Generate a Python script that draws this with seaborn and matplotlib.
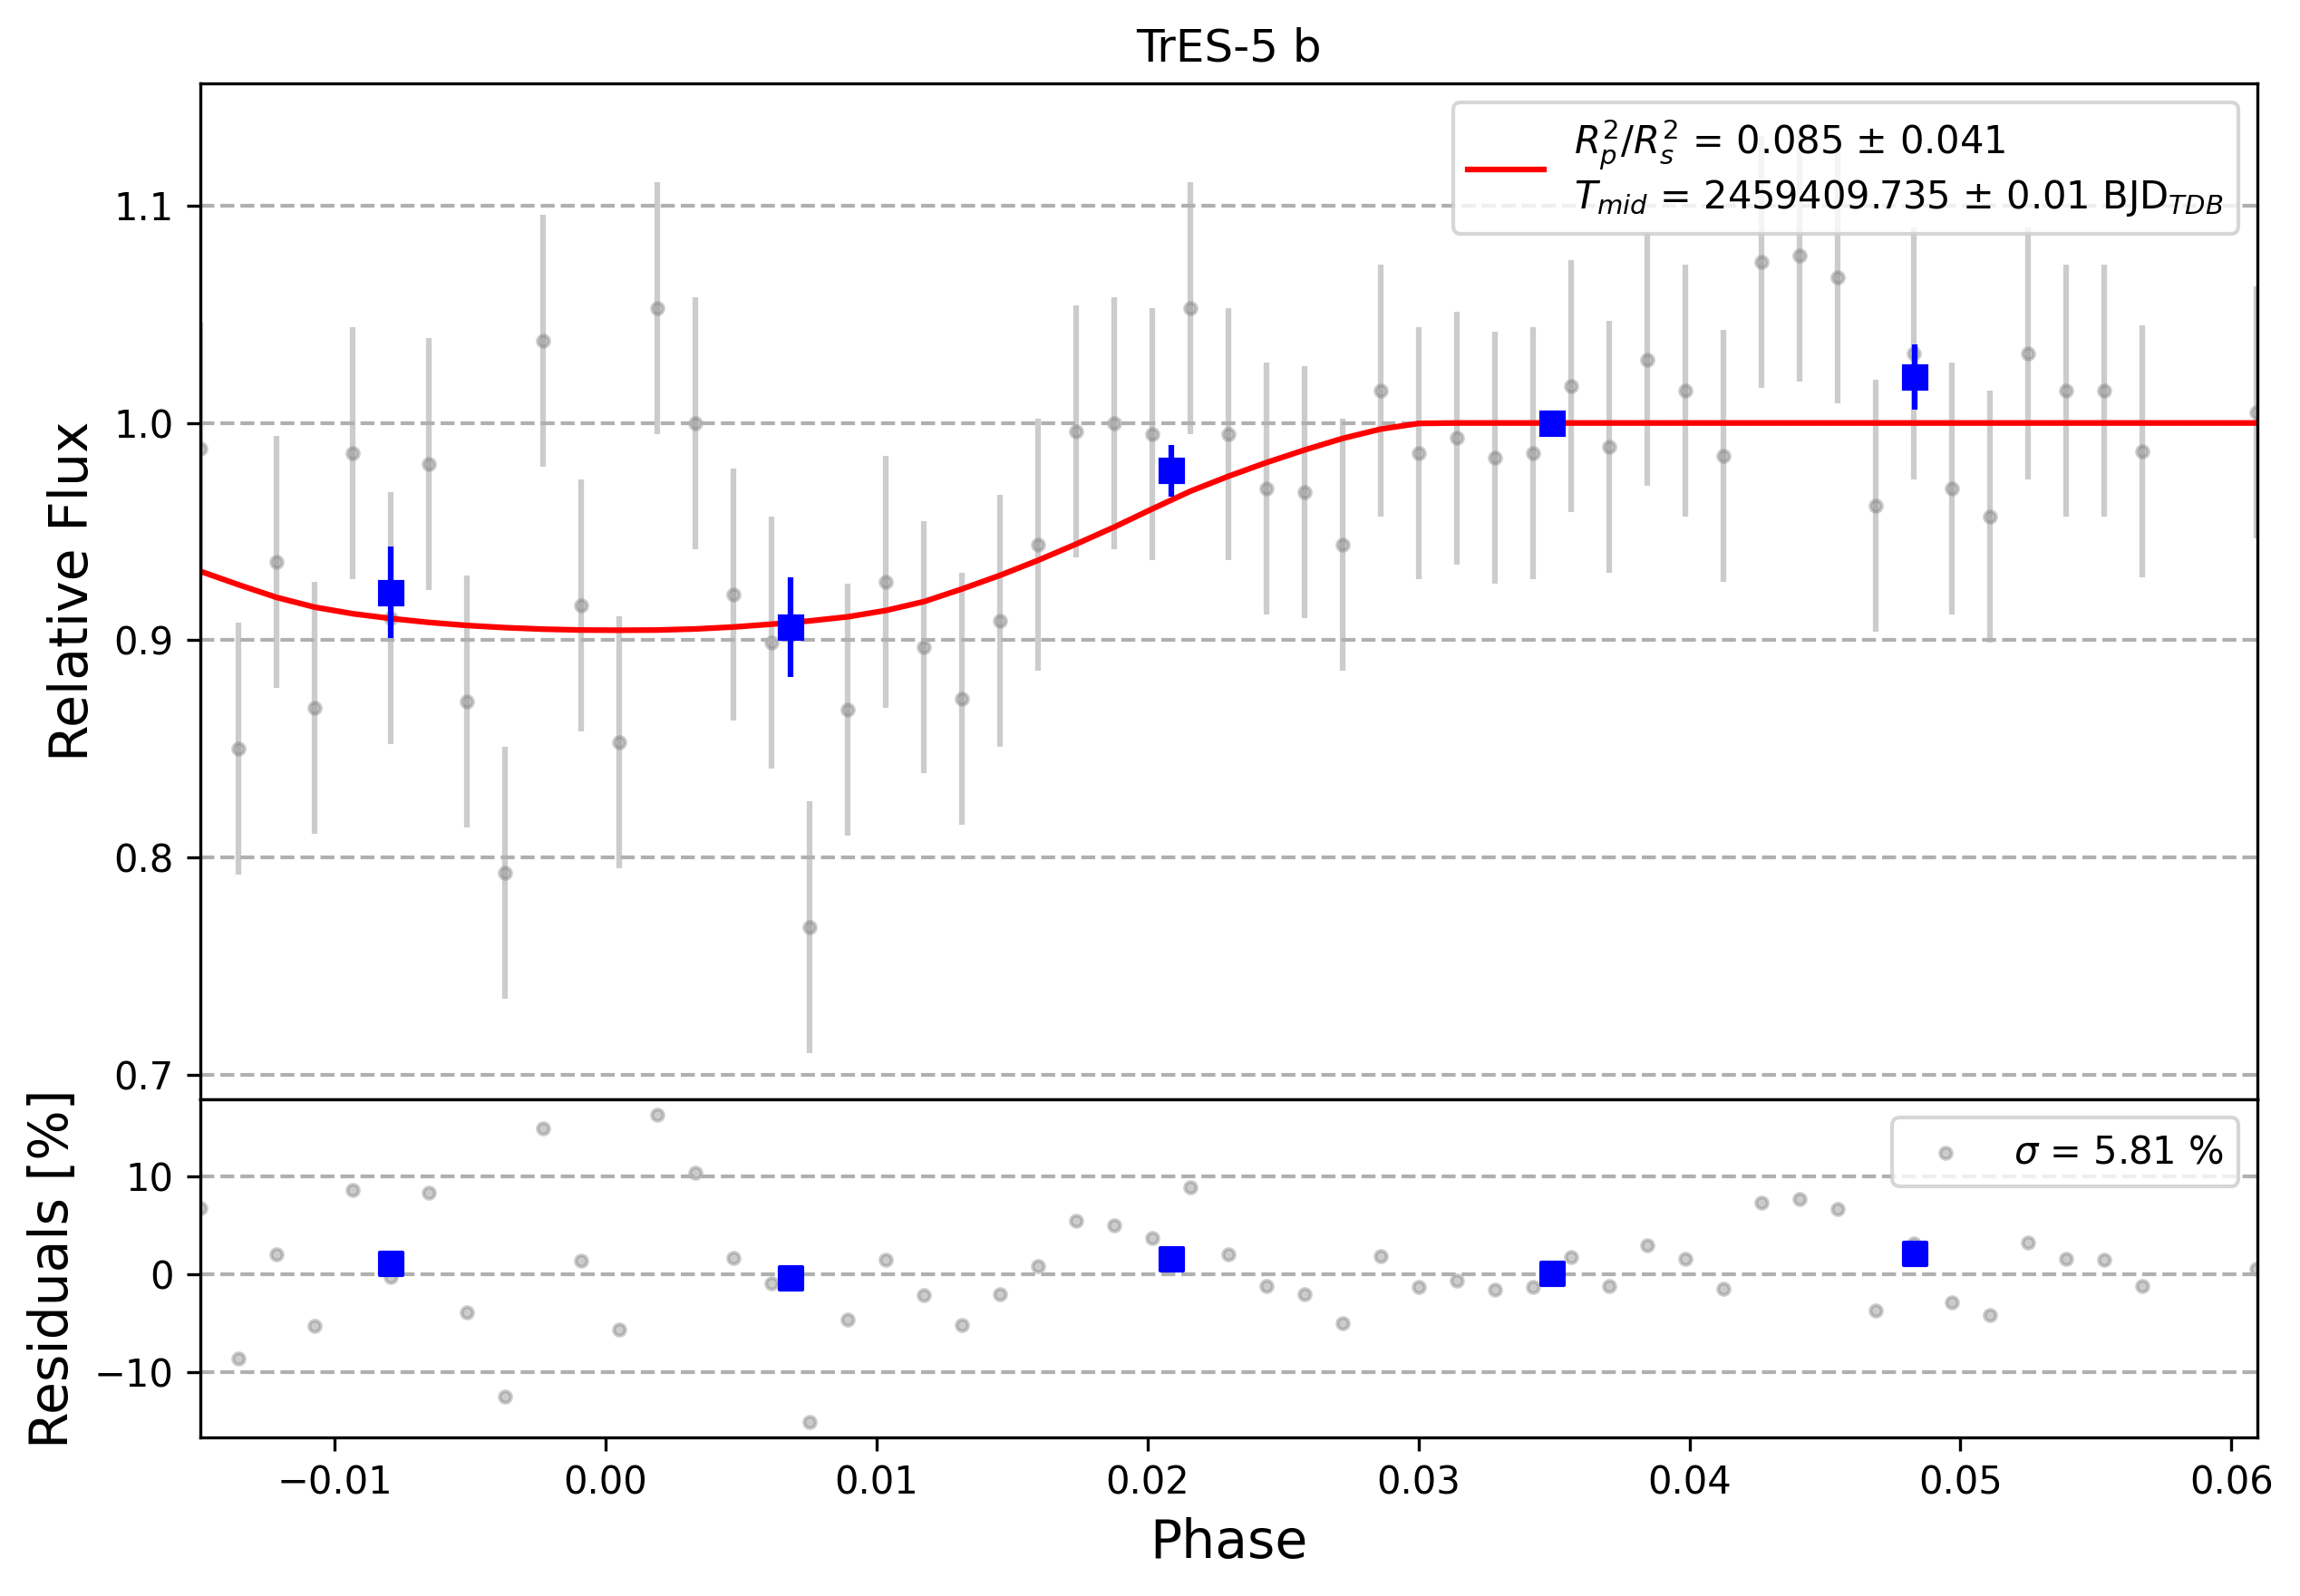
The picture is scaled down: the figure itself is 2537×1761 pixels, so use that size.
import numpy as np
import pandas as pd
import matplotlib
matplotlib.use("Agg")
import matplotlib.pyplot as plt
import seaborn as sns

# ---------------- data ----------------
phase = [-0.01495, -0.01354, -0.01214, -0.01073, -0.00933, -0.00792, -0.00652,
         -0.00511, -0.00371, -0.00230, -0.00090, 0.00051, 0.00191, 0.00332,
         0.00472, 0.00613, 0.00753, 0.00894, 0.01034, 0.01175, 0.01315,
         0.01456, 0.01596, 0.01737, 0.01877, 0.02018, 0.02158, 0.02299,
         0.02439, 0.02580, 0.02720, 0.02861, 0.03001, 0.03142, 0.03282,
         0.03423, 0.03563, 0.03704, 0.03844, 0.03985, 0.04125, 0.04266,
         0.04406, 0.04547, 0.04687, 0.04828, 0.04968, 0.05109, 0.05249,
         0.05390, 0.05530, 0.05671, 0.06092]

flux = [0.988, 0.850, 0.936, 0.869, 0.986, 0.910, 0.981, 0.872, 0.793, 1.038,
        0.916, 0.853, 1.053, 1.000, 0.921, 0.899, 0.768, 0.868, 0.927, 0.897,
        0.873, 0.909, 0.944, 0.996, 1.000, 0.995, 1.053, 0.995, 0.970, 0.968,
        0.944, 1.015, 0.986, 0.993, 0.984, 0.986, 1.017, 0.989, 1.029, 1.015,
        0.985, 1.074, 1.077, 1.067, 0.962, 1.032, 0.970, 0.957, 1.032, 1.015,
        1.015, 0.987, 1.005]

flux_err = [0.058, 0.058, 0.058, 0.058, 0.058, 0.058, 0.058, 0.058, 0.058, 0.058,
            0.058, 0.058, 0.058, 0.058, 0.058, 0.058, 0.058, 0.058, 0.058, 0.058,
            0.058, 0.058, 0.058, 0.058, 0.058, 0.058, 0.058, 0.058, 0.058, 0.058,
            0.058, 0.058, 0.058, 0.058, 0.058, 0.058, 0.058, 0.058, 0.058, 0.058,
            0.058, 0.058, 0.058, 0.058, 0.058, 0.058, 0.058, 0.058, 0.058, 0.058,
            0.058, 0.058, 0.058]

model = [0.9317, 0.9255, 0.9197, 0.9152, 0.9122, 0.9100, 0.9082, 0.9068, 0.9058,
         0.9051, 0.9047, 0.9046, 0.9047, 0.9052, 0.9061, 0.9074, 0.9089, 0.9108,
         0.9137, 0.9178, 0.9236, 0.9299, 0.9368, 0.9443, 0.9521, 0.9605, 0.9686,
         0.9755, 0.9818, 0.9876, 0.9929, 0.9972, 0.9998, 1.0, 1.0, 1.0, 1.0, 1.0,
         1.0, 1.0, 1.0, 1.0, 1.0, 1.0, 1.0, 1.0, 1.0, 1.0, 1.0, 1.0, 1.0, 1.0, 1.0]

residual = [6.77, -8.62, 2.07, -5.29, 8.62, -0.25, 8.35, -3.86, -12.52, 14.93,
            1.39, -5.66, 16.32, 10.36, 1.67, -0.93, -15.08, -4.64, 1.48, -2.10,
            -5.19, -2.04, 0.83, 5.50, 5.04, 3.74, 8.87, 2.07, -1.21, -2.04,
            -4.98, 1.89, -1.30, -0.62, -1.55, -1.30, 1.79, -1.14, 3.00, 1.58,
            -1.45, 7.36, 7.70, 6.65, -3.71, 3.20, -2.87, -4.14, 3.25, 1.58,
            1.48, -1.21, 0.59]

bin_phase = [-0.00792, 0.00683, 0.02088, 0.03494, 0.04830]
bin_flux = [0.922, 0.906, 0.978, 1.000, 1.021]
bin_err = [0.021, 0.023, 0.012, 0.004, 0.015]
bin_residual = [1.11, -0.37, 1.58, 0.09, 2.13]

title = "TrES-5 b"
fit_label = (r"$R_{p}^{2}/R_{s}^{2}$ = 0.085 $\pm$ 0.041" + "\n"
             + r"$T_{mid}$ = 2459409.735 $\pm$ 0.01 BJD$_{TDB}$")
sigma_label = r"$\sigma$ = 5.81 %"

df = pd.DataFrame({"phase": phase, "flux": flux, "err": flux_err,
                   "model": model, "residual": residual})
dfb = pd.DataFrame({"phase": bin_phase, "flux": bin_flux, "err": bin_err,
                    "residual": bin_residual})

# ---------------- figure ----------------
W, H, DPI = 2537, 1761, 300
fig = plt.figure(figsize=(W / DPI, H / DPI), dpi=DPI)
gs = fig.add_gridspec(2, 1, height_ratios=[3, 1], hspace=0,
                      left=221 / W, right=2490 / W,
                      top=1 - 92 / H, bottom=1 - 1586 / H)
ax1 = fig.add_subplot(gs[0])
ax2 = fig.add_subplot(gs[1])

# top panel
ax1.errorbar(df["phase"], df["flux"], yerr=df["err"], fmt=".", color="gray",
             alpha=0.4, zorder=1)
sns.lineplot(data=df, x="phase", y="model", color="red", lw=1.5, sort=False,
             ax=ax1, zorder=2, label=fit_label)
ax1.errorbar(dfb["phase"], dfb["flux"], yerr=dfb["err"], fmt="s",
             color="blue", ms=6, zorder=3)
ax1.set_xlim(-0.01496, 0.06096)
ax1.set_ylim(0.6889, 1.1563)
ax1.set_yticks([0.7, 0.8, 0.9, 1.0, 1.1])
ax1.grid(axis="y", linestyle="--", color="#b0b0b0", lw=1)
ax1.tick_params(axis="x", bottom=False, labelbottom=False)
ax1.set_xlabel("")
ax1.set_ylabel("Relative Flux", fontsize=14)
ax1.set_title(title, fontsize=12)
ax1.legend(loc="upper right", fontsize=10)

# residual panel
sns.scatterplot(data=df, x="phase", y="residual", marker=".", s=36,
                color="gray", edgecolor="gray", linewidth=1, alpha=0.4,
                ax=ax2, zorder=1, label=sigma_label)
sns.scatterplot(data=dfb, x="phase", y="residual", marker="s", s=36,
                color="blue", edgecolor="blue", linewidth=1, ax=ax2, zorder=3,
                legend=False)
ax2.set_xlim(-0.01496, 0.06096)
ax2.set_ylim(-16.65, 17.94)
ax2.set_yticks([-10, 0, 10])
ax2.set_xticks([-0.01, 0.0, 0.01, 0.02, 0.03, 0.04, 0.05, 0.06])
ax2.grid(axis="y", linestyle="--", color="#b0b0b0", lw=1)
ax2.set_xlabel("Phase", fontsize=14)
ax2.set_ylabel("Residuals [%]", fontsize=14)
ax2.legend(loc="upper right", fontsize=10)

fig.savefig("out.png", dpi=DPI)
